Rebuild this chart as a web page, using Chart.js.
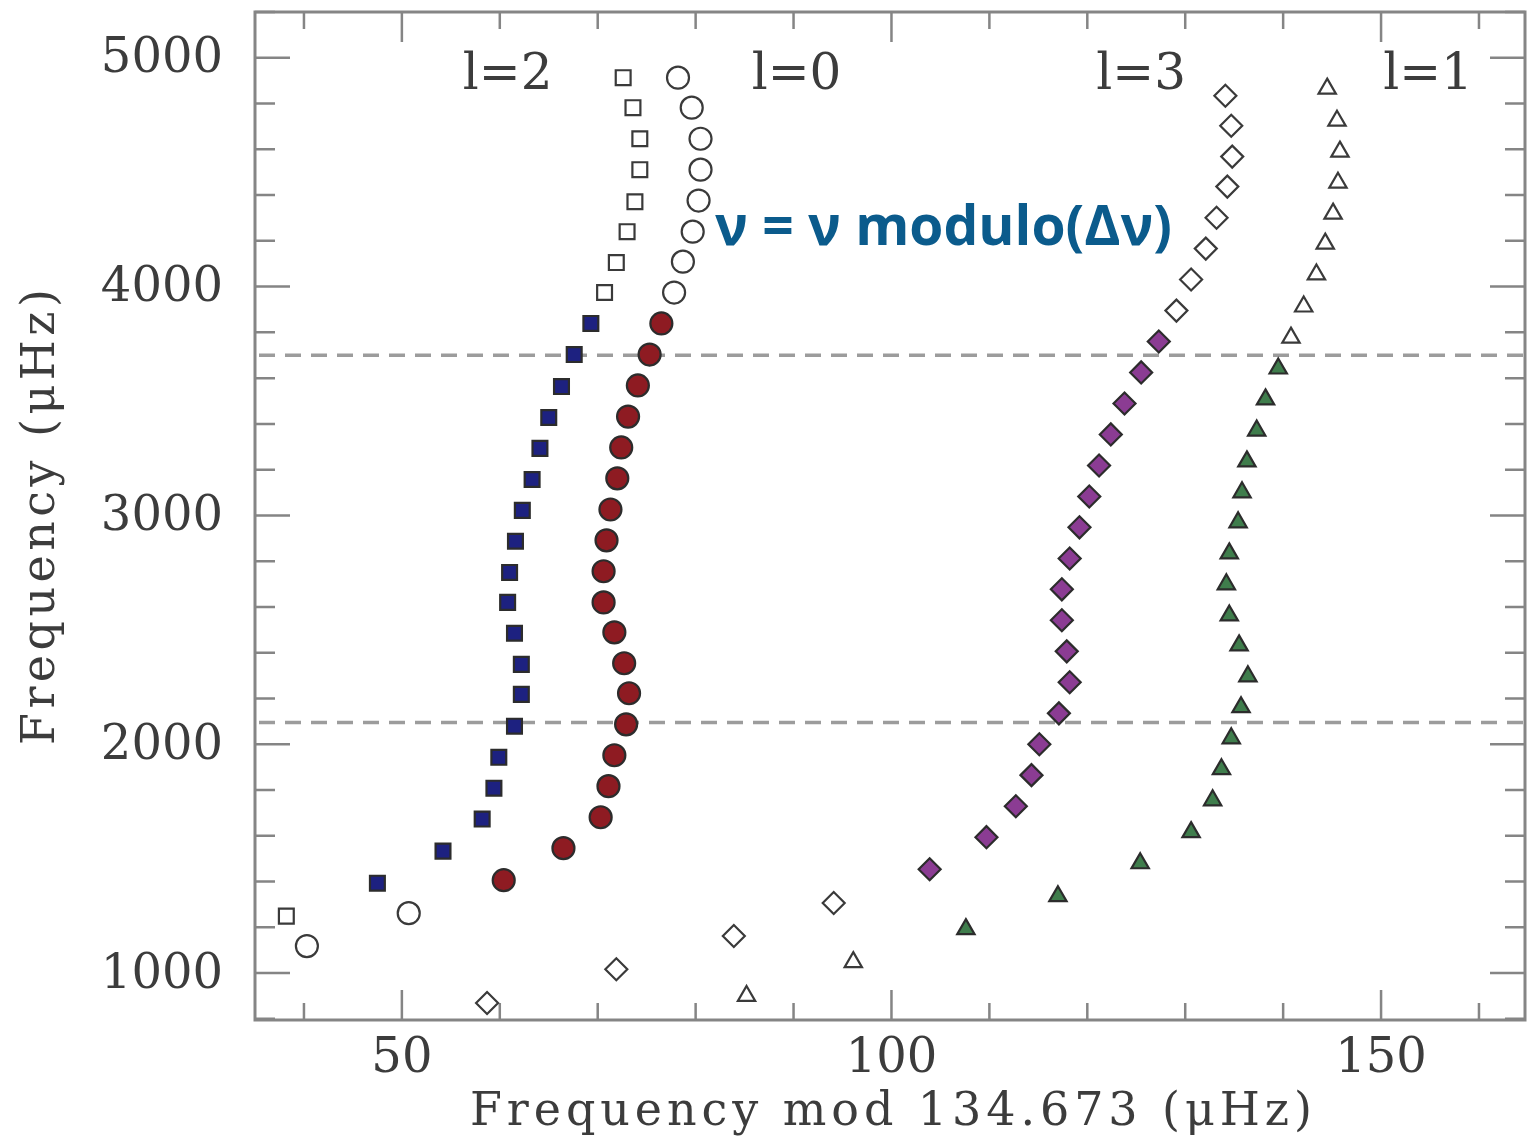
<!DOCTYPE html>
<html><head><meta charset="utf-8">
<script src="https://cdn.jsdelivr.net/npm/chart.js@4.4.1/dist/chart.umd.min.js"></script>
<style>html,body{margin:0;padding:0;background:#fff;}#wrap{width:1527px;height:1145px;position:relative;}</style>
</head><body><div id="wrap"><canvas id="c" width="1527" height="1145"></canvas></div>
<script>
// ---- data (Frequency mod 134.673 µHz, Frequency µHz) ----
const l2X = [72.6,73.6,74.3,74.3,73.8,73.0,71.9,70.7,69.3,67.6,66.3,65.0,64.1,63.3,62.3,61.6,61.0,60.8,61.5,62.2,62.2,61.5,59.9,59.4,58.2,54.2,47.5,38.2];
const l2Y = [4913,4782,4646,4511,4371,4240,4105,3974,3839,3703,3563,3428,3293,3157,3022,2887,2751,2620,2485,2349,2218,2079,1943,1808,1673,1533,1393,1249];
const l0X = [78.2,79.6,80.5,80.5,80.3,79.7,78.7,77.8,76.5,75.3,74.1,73.1,72.4,72.0,71.3,70.9,70.6,70.6,71.7,72.7,73.2,72.9,71.7,71.1,70.3,66.5,60.4,50.7,40.3];
const l0Y = [4913,4782,4646,4511,4376,4240,4109,3974,3839,3703,3568,3432,3297,3162,3026,2891,2756,2620,2489,2354,2223,2087,1952,1817,1681,1546,1406,1262,1118];
const l3X = [134.1,134.7,134.8,134.3,133.2,132.1,130.6,129.1,127.3,125.5,123.8,122.4,121.2,120.2,119.2,118.2,117.4,117.4,117.9,118.2,117.1,115.1,114.3,112.7,109.7,103.9,94.1,83.9,71.9,58.7];
const l3Y = [4834,4703,4568,4437,4301,4166,4031,3895,3760,3625,3489,3354,3218,3083,2948,2812,2677,2542,2406,2271,2135,2000,1865,1729,1594,1454,1306,1162,1017,869];
const l1X = [144.5,145.5,145.8,145.6,145.1,144.3,143.4,142.1,140.8,139.5,138.2,137.3,136.3,135.8,135.4,134.5,134.2,134.5,135.5,136.4,135.7,134.7,133.7,132.8,130.6,125.4,117.0,107.6,96.1,85.2];
const l1Y = [4865,4725,4590,4454,4319,4188,4053,3913,3777,3642,3507,3371,3236,3101,2970,2834,2699,2563,2432,2297,2162,2026,1891,1755,1616,1480,1336,1192,1048,900];
// indices (first, last) of the observed (filled) modes in each ridge
const l2Observed = [8, 26];
const l0Observed = [8, 26];
const l3Observed = [8, 25];
const l1Observed = [9, 27];
const degreeLabels = ['l=2','l=0','l=3','l=1'];
const degreeLabelX = [60.8, 90.3, 125.5, 154.8];
const degreeLabelY = 4920;
const dashedFreqs = [3700, 2095];
const xTicks = [50, 100, 150];
const yTicks = [1000, 2000, 3000, 4000, 5000];
const xTitle = 'Frequency mod 134.673 (μHz)';
const yTitle = 'Frequency (μHz)';
const annotation = 'ν = ν modulo(Δν)';

const toPts = (xs, ys) => xs.map((x, i) => ({x: x, y: ys[i]}));
function ridge(label, xs, ys, obs, shape, r, color) {
  const isObs = ctx => ctx.dataIndex >= obs[0] && ctx.dataIndex <= obs[1];
  return {
    label: label, data: toPts(xs, ys), showLine: false,
    pointStyle: shape, pointRadius: r, pointHoverRadius: r,
    borderWidth: 2.2, pointBorderWidth: 2.2,
    pointBorderColor: ctx => isObs(ctx) ? '#2c2c2c' : '#3a3a3a',
    pointBackgroundColor: ctx => isObs(ctx) ? color : 'rgba(255,255,255,0)'
  };
}

const SERIF = '"DejaVu Serif", "Liberation Serif", serif';
const TXT = '#3c3c3c';
const AX = '#858585';

function fitText(ctx, text, x, y, width) {
  ctx.letterSpacing = '0px';
  const w = ctx.measureText(text).width;
  const sp = (width - w) / Math.max(1, text.length - 1);
  ctx.letterSpacing = sp.toFixed(2) + 'px';
  ctx.textAlign = 'left';
  ctx.fillText(text, x - width / 2, y);
  ctx.letterSpacing = '0px';
}

const deco = {
  id: 'deco',
  beforeDatasetsDraw(chart) {
    const {ctx, chartArea: a, scales: {x, y}} = chart;
    ctx.save();
    ctx.strokeStyle = '#9c9c9c'; ctx.lineWidth = 3.5; ctx.setLineDash([16, 10]);
    dashedFreqs.forEach(f => {
      const py = y.getPixelForValue(f);
      ctx.beginPath(); ctx.moveTo(a.left + 4, py); ctx.lineTo(a.right, py); ctx.stroke();
    });
    ctx.setLineDash([]);
    ctx.strokeStyle = AX; ctx.lineWidth = 3;
    ctx.strokeRect(a.left, a.top, a.right - a.left, a.bottom - a.top);
    ctx.lineWidth = 2.5;
    for (let v = 40; v <= 160; v += 10) {
      const px = x.getPixelForValue(v);
      const len = (v % 50 === 0) ? 30 : 17;
      ctx.beginPath();
      ctx.moveTo(px, a.bottom); ctx.lineTo(px, a.bottom - len);
      ctx.moveTo(px, a.top); ctx.lineTo(px, a.top + len);
      ctx.stroke();
    }
    for (let v = 800; v <= 5200; v += 200) {
      const py = y.getPixelForValue(v);
      const len = (v % 1000 === 0) ? 35 : 20;
      ctx.beginPath();
      ctx.moveTo(a.left, py); ctx.lineTo(a.left + len, py);
      ctx.moveTo(a.right, py); ctx.lineTo(a.right - len, py);
      ctx.stroke();
    }
    ctx.restore();
  },
  afterDraw(chart) {
    const {ctx, chartArea: a, scales: {x, y}} = chart;
    ctx.save();
    ctx.fillStyle = TXT; ctx.textBaseline = 'middle';
    ctx.font = '48px ' + SERIF;
    ctx.textAlign = 'right';
    yTicks.forEach(v => ctx.fillText(String(v), 223, y.getPixelForValue(v) + 2));
    ctx.textAlign = 'center';
    xTicks.forEach(v => ctx.fillText(String(v), x.getPixelForValue(v), 1060));
    ctx.font = '50px ' + SERIF;
    degreeLabels.forEach((t, i) => ctx.fillText(t, x.getPixelForValue(degreeLabelX[i]), y.getPixelForValue(degreeLabelY)));
    ctx.font = '46px ' + SERIF;
    fitText(ctx, xTitle, 891, 1113, 842);
    ctx.save();
    ctx.translate(42, 517); ctx.rotate(-Math.PI / 2);
    fitText(ctx, yTitle, 0, 0, 456);
    ctx.restore();
    ctx.fillStyle = '#0b5b8c';
    ctx.font = 'bold 56px "Open Sans", "Noto Sans", sans-serif';
    ctx.textAlign = 'left';
    ctx.fillText(annotation, 715, 229, 457);
    ctx.restore();
  }
};

new Chart(document.getElementById('c'), {
  type: 'scatter',
  data: { datasets: [
    ridge('l=2', l2X, l2Y, l2Observed, 'rect', 10.5, '#1d2180'),
    ridge('l=0', l0X, l0Y, l0Observed, 'circle', 11, '#8e1b22'),
    ridge('l=3', l3X, l3Y, l3Observed, 'rectRot', 11, '#8b3c93'),
    ridge('l=1', l1X, l1Y, l1Observed, 'triangle', 10, '#3f7d4c')
  ]},
  options: {
    responsive: false, animation: false, devicePixelRatio: 1,
    layout: { autoPadding: false, padding: { top: 12, right: 2, left: 0, bottom: 0 } },
    plugins: { legend: { display: false }, tooltip: { enabled: false } },
    scales: {
      x: {
        type: 'linear', min: 35, max: 164.7, position: 'bottom',
        grid: { display: false, drawTicks: false }, border: { display: false },
        ticks: { display: false },
        afterFit: s => { s.height = 125; }
      },
      y: {
        type: 'linear', min: 795, max: 5200,
        grid: { display: false, drawTicks: false }, border: { display: false },
        ticks: { display: false },
        afterFit: s => { s.width = 255; }
      }
    }
  },
  plugins: [deco]
});
</script></body></html>
